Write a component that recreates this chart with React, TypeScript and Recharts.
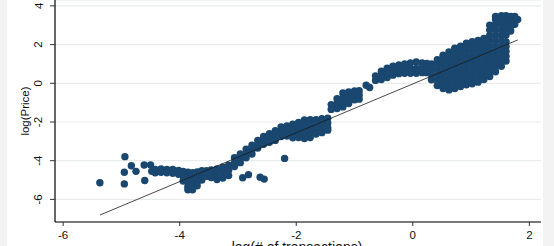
import React from 'react';
import { ScatterChart, Scatter, XAxis, YAxis, CartesianGrid, Label } from 'recharts';

// ---- data ----
const xTicks = [-6, -4, -2, 0, 2];
const yTicks = [-6, -4, -2, 0, 2, 4];

const outlierX = [-5.37, -4.94, -4.95, -4.95, -4.83, -4.75, -4.61, -4.5, -4.6, -4.48, -2.92, -2.82, -2.62, -2.55, -2.2];
const outlierY = [-5.14, -3.79, -4.6, -5.2, -4.26, -4.55, -4.22, -4.22, -5.02, -4.55, -4.88, -4.72, -4.85, -4.95, -3.88];

// columns: [log(# of transactions), list of log(Price) values]
const lowerCloud: [number, number[]][] = [
  [-4.42, [-4.45, -4.62]],
  [-4.32, [-4.42, -4.6]],
  [-4.22, [-4.45, -4.62]],
  [-4.12, [-4.45, -4.65]],
  [-4.02, [-4.5, -4.7]],
  [-3.94, [-4.55, -4.8, -5.05]],
  [-3.86, [-4.6, -4.85, -5.1, -5.35, -5.5]],
  [-3.78, [-4.62, -4.88, -5.12, -5.38, -5.5]],
  [-3.7, [-4.58, -4.84, -5.1, -5.3]],
  [-3.62, [-4.52, -4.76, -5.0]],
  [-3.54, [-4.52, -4.8]],
  [-3.46, [-4.48, -4.7, -4.87]],
  [-3.36, [-4.43, -4.7, -4.97]],
  [-3.26, [-4.33, -4.6, -4.9]],
  [-3.16, [-4.23, -4.5, -4.77]],
];

const middleCloud: [number, number[]][] = [
  [-3.06, [-3.85, -4.1, -4.3]],
  [-2.96, [-3.65, -3.9, -4.1]],
  [-2.86, [-3.4, -3.65, -3.85]],
  [-2.76, [-3.2, -3.45, -3.65]],
  [-2.66, [-2.95, -3.2, -3.35]],
  [-2.56, [-2.75, -3.0, -3.15]],
  [-2.46, [-2.6, -2.85, -3.05]],
  [-2.36, [-2.45, -2.7, -2.95]],
  [-2.26, [-2.25, -2.5, -2.75]],
  [-2.16, [-2.2, -2.45, -2.72]],
  [-2.06, [-2.12, -2.37, -2.62, -2.82]],
  [-1.96, [-2.02, -2.27, -2.52, -2.8]],
  [-1.86, [-1.9, -2.15, -2.4, -2.65, -2.85]],
  [-1.76, [-1.88, -2.13, -2.38, -2.63, -2.8]],
  [-1.66, [-1.88, -2.13, -2.38, -2.62]],
  [-1.56, [-1.83, -2.08, -2.33, -2.55]],
  [-1.46, [-1.8, -2.05, -2.3, -2.42]],
  [-1.4, [-1.1, -1.35]],
  [-1.3, [-0.8, -1.05, -1.3]],
  [-1.2, [-0.5, -0.75, -1.0, -1.22]],
  [-1.1, [-0.45, -0.7, -0.95, -1.05]],
  [-1.0, [-0.4, -0.65, -0.85]],
  [-0.92, [-0.38, -0.6, -0.82]],
  [-0.8, [-0.1]],
  [-0.74, [-0.22]],
];

const upperCloud: [number, number[]][] = [
  [-0.64, [0.15, 0.38]],
  [-0.54, [0.2, 0.45, 0.62]],
  [-0.44, [0.3, 0.55, 0.78]],
  [-0.34, [0.42, 0.67, 0.88]],
  [-0.24, [0.5, 0.75, 0.95]],
  [-0.14, [0.52, 0.77, 1.0]],
  [-0.04, [0.52, 0.77, 1.05]],
  [0.06, [0.52, 0.77, 1.1]],
  [0.16, [0.55, 0.8, 1.05]],
  [0.24, [0.55, 0.8, 1.02]],
  [0.32, [0.18, 0.45, 0.72, 1.0]],
  [0.42, [-0.12, 0.15, 0.42, 0.7, 0.97, 1.22]],
  [0.52, [-0.27, 0.0, 0.27, 0.55, 0.82, 1.1, 1.35, 1.45]],
  [0.62, [-0.34, -0.06, 0.22, 0.5, 0.78, 1.06, 1.34, 1.62]],
  [0.72, [-0.27, 0.01, 0.29, 0.57, 0.85, 1.13, 1.41, 1.69, 1.82]],
  [0.82, [-0.17, 0.11, 0.39, 0.67, 0.95, 1.23, 1.51, 1.79, 1.92]],
  [0.92, [-0.08, 0.2, 0.48, 0.76, 1.04, 1.32, 1.6, 1.88, 2.07]],
  [1.02, [-0.02, 0.26, 0.54, 0.82, 1.1, 1.38, 1.66, 1.94, 2.15]],
  [1.12, [0.06, 0.34, 0.62, 0.9, 1.18, 1.46, 1.74, 2.02, 2.22]],
  [1.22, [0.2, 0.45, 0.72, 0.98, 1.25, 1.53, 1.81, 2.09, 2.32]],
  [1.32, [0.35, 0.62, 0.9, 1.15, 1.4, 1.65, 1.91, 2.19, 2.47, 2.75, 3.0]],
  [1.42, [0.6, 0.85, 1.1, 1.37, 1.65, 1.93, 2.21, 2.49, 2.77, 3.05, 3.3, 3.45]],
  [1.52, [0.88, 1.1, 1.34, 1.62, 1.9, 2.18, 2.46, 2.74, 3.02, 3.3, 3.5]],
  [1.6, [1.15, 1.4, 1.65, 1.9, 2.15, 2.5, 2.75, 3.0, 3.25, 3.5]],
  [1.68, [2.7, 2.95, 3.2, 3.45]],
  [1.75, [3.05, 3.3, 3.45]],
  [1.8, [3.3]],
];

const fitX = [-5.37, 1.8];
const fitY = [-6.81, 2.24];

// ---- build tables ----
const fromColumns = (cols: [number, number[]][]) =>
  cols.flatMap(([x, ys]) => ys.map((y) => ({ x, y })));

const pointData = [
  ...outlierX.map((x, i) => ({ x, y: outlierY[i] })),
  ...fromColumns(lowerCloud),
  ...fromColumns(middleCloud),
  ...fromColumns(upperCloud),
];
const fitData = fitX.map((x, i) => ({ x, y: fitY[i] }));

const NAVY = '#1a476f';
const FONT = '"Liberation Sans", Arial, Helvetica, sans-serif';

const Dot = (p: any) => <circle cx={p.cx} cy={p.cy} r={3.7} fill={NAVY} />;
const NoDot = () => <g />;

const XTick = (p: any) => (
  <text x={p.x} y={239} textAnchor="middle" fontSize={11.5} fontFamily={FONT} fill="#111">
    {p.payload.value}
  </text>
);

const YTick = (p: any) => (
  <text
    x={42.5}
    y={p.y}
    transform={`rotate(-90 42.5 ${p.y})`}
    textAnchor="middle"
    fontSize={11.5}
    fontFamily={FONT}
    fill="#111"
  >
    {p.payload.value}
  </text>
);

export default function App() {
  return (
    <div style={{ position: 'absolute', left: 0, top: 0, width: 554, height: 246, background: '#f3f3f3', overflow: 'hidden' }}>
      <div style={{ position: 'absolute', left: 7, top: 0, width: 536, height: 246, background: '#ffffff' }} />
      <div style={{ position: 'absolute', left: 0, top: 0 }}>
        <ScatterChart width={554} height={246} margin={{ top: 0, right: 13, bottom: 0, left: 0 }}>
          <CartesianGrid vertical={false} stroke="#e4e8ea" strokeWidth={1} />
          <XAxis
            type="number"
            dataKey="x"
            domain={[-6.14, 2.2]}
            allowDataOverflow
            ticks={xTicks}
            height={24}
            axisLine={{ stroke: '#000', strokeWidth: 1.2 }}
            tickLine={{ stroke: '#333' }}
            tickSize={4}
            tick={XTick}
            interval={0}
          >
            <Label
              content={() => (
                <text x={297} y={252} textAnchor="middle" fontSize={14} fontFamily={FONT} fill="#111">
                  log(# of transactions)
                </text>
              )}
            />
          </XAxis>
          <YAxis
            type="number"
            dataKey="y"
            domain={[-7.168, 4.305]}
            allowDataOverflow
            ticks={yTicks}
            width={55}
            axisLine={{ stroke: '#000', strokeWidth: 1.2 }}
            tickLine={{ stroke: '#333' }}
            tickSize={5}
            tick={YTick}
            interval={0}
          >
            <Label
              content={() => (
                <text
                  x={28.5}
                  y={111}
                  transform="rotate(-90 28.5 111)"
                  textAnchor="middle"
                  fontSize={11.5}
                  fontFamily={FONT}
                  fill="#111"
                >
                  log(Price)
                </text>
              )}
            />
          </YAxis>
          <Scatter data={pointData} shape={Dot} isAnimationActive={false} />
          <Scatter
            data={fitData}
            shape={NoDot}
            line={{ stroke: '#1a1a1a', strokeWidth: 0.8 }}
            isAnimationActive={false}
          />
        </ScatterChart>
      </div>
    </div>
  );
}
